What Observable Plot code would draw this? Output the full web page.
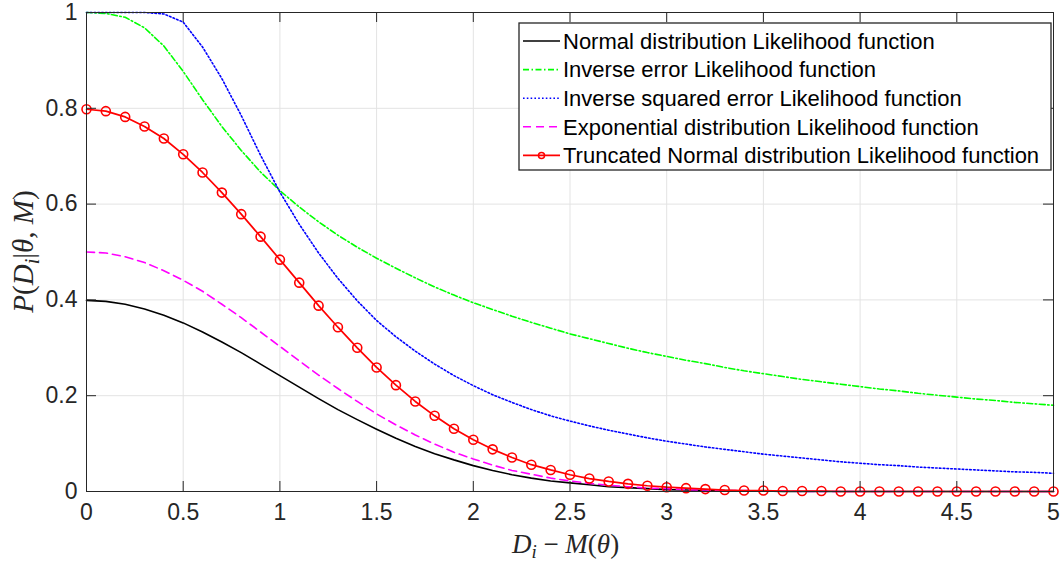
<!DOCTYPE html>
<html><head><meta charset="utf-8">
<script src="https://cdn.jsdelivr.net/npm/d3@7"></script>
<script src="https://cdn.jsdelivr.net/npm/@observablehq/plot@0.6"></script>
<style>
body{margin:0;background:#fff}
#chart{position:relative;width:1060px;height:563px}
</style>
</head><body><div id="chart"></div>
<script>
// ---- data ----
const xs = [0,0.1,0.2,0.3,0.4,0.5,0.6,0.7,0.8,0.9,1.0,1.1,1.2,1.3,1.4,1.5,1.6,1.7,1.8,1.9,2.0,2.1,2.2,2.3,2.4,2.5,2.6,2.7,2.8,2.9,3.0,3.1,3.2,3.3,3.4,3.5,3.6,3.7,3.8,3.9,4.0,4.1,4.2,4.3,4.4,4.5,4.6,4.7,4.8,4.9,5.0];
const normalLik = [0.399,0.397,0.391,0.381,0.368,0.352,0.333,0.312,0.290,0.266,0.242,0.218,0.194,0.171,0.150,0.130,0.111,0.094,0.079,0.066,0.054,0.044,0.035,0.028,0.022,0.018,0.014,0.010,0.008,0.006,0.004,0.003,0.002,0.002,0.001,0.001,0,0,0,0,0,0,0,0,0,0,0,0,0,0,0];
const inverseErr = [1.000,0.998,0.990,0.968,0.930,0.877,0.818,0.762,0.712,0.667,0.628,0.594,0.563,0.535,0.510,0.487,0.466,0.446,0.427,0.410,0.394,0.380,0.366,0.353,0.341,0.329,0.319,0.309,0.299,0.290,0.282,0.274,0.267,0.259,0.252,0.246,0.240,0.234,0.229,0.224,0.219,0.214,0.210,0.205,0.201,0.197,0.193,0.190,0.186,0.183,0.180];
const inverseSqErr = [1.000,1.000,1.000,1.000,0.997,0.980,0.928,0.862,0.785,0.702,0.625,0.558,0.498,0.445,0.398,0.357,0.323,0.293,0.266,0.242,0.221,0.202,0.186,0.171,0.158,0.147,0.137,0.128,0.120,0.112,0.105,0.099,0.093,0.088,0.083,0.078,0.074,0.070,0.066,0.062,0.059,0.056,0.054,0.051,0.049,0.047,0.045,0.043,0.041,0.040,0.038];
const exponentialLik = [0.500,0.498,0.490,0.478,0.461,0.441,0.418,0.391,0.363,0.333,0.303,0.273,0.243,0.215,0.188,0.162,0.139,0.118,0.099,0.082,0.068,0.055,0.044,0.036,0.028,0.022,0.017,0.013,0.010,0.007,0.006,0.004,0.003,0.002,0.002,0.001,0.001,0,0,0,0,0,0,0,0,0,0,0,0,0,0];
const truncNormalLik = [0.798,0.794,0.782,0.762,0.737,0.704,0.666,0.624,0.579,0.532,0.484,0.436,0.388,0.343,0.300,0.259,0.222,0.188,0.158,0.131,0.108,0.088,0.071,0.056,0.045,0.035,0.027,0.021,0.016,0.012,0.009,0.007,0.005,0.003,0.002,0.002,0.001,0.001,0.001,0,0,0,0,0,0,0,0,0,0,0,0];
const seriesNames = ["Normal distribution Likelihood function","Inverse error Likelihood function","Inverse squared error Likelihood function","Exponential distribution Likelihood function","Truncated Normal distribution Likelihood function"];
const xTicks = [0,0.5,1,1.5,2,2.5,3,3.5,4,4.5,5];
const yTicks = [0,0.2,0.4,0.6,0.8,1];

// ---- styles ----
const styles = [
  {values: normalLik,      stroke:"#000000", dash:null,            width:1.6, marker:false},
  {values: inverseErr,     stroke:"#00ff00", dash:"6,2.5,1.5,2.5", width:1.6, marker:false},
  {values: inverseSqErr,   stroke:"#0000ff", dash:"1.6,2.2",       width:1.6, marker:false},
  {values: exponentialLik, stroke:"#ff00ff", dash:"8,5",           width:1.6, marker:false},
  {values: truncNormalLik, stroke:"#ff0000", dash:null,            width:1.7, marker:true}
];
const W=1060, H=563, mL=86, mR=7, mT=12, mB=72;
const pW=W-mL-mR, pH=H-mT-mB;
const axisColor="#262626", gridColor="#e3e3e3";
const sans = "'Liberation Sans', Arial, sans-serif";

const rowsFor = vals => xs.map((x,i)=>({x, y: vals[i]}));

const marks = [
  Plot.gridX(xTicks, {stroke: gridColor, strokeOpacity: 1, strokeWidth: 1}),
  Plot.gridY(yTicks, {stroke: gridColor, strokeOpacity: 1, strokeWidth: 1}),
];
styles.forEach(s => {
  marks.push(Plot.line(rowsFor(s.values), {x:"x", y:"y", stroke:s.stroke, strokeWidth:s.width, strokeDasharray:s.dash, strokeLinejoin:"round"}));
  if (s.marker) marks.push(Plot.dot(rowsFor(s.values), {x:"x", y:"y", r:4.5, stroke:s.stroke, strokeWidth:1.6, fill:"none"}));
});
marks.push(
  // inward ticks on all four sides
  Plot.ruleX(xTicks, {x: d=>d, insetTop: pH-10, stroke: axisColor}),
  Plot.ruleX(xTicks, {x: d=>d, insetBottom: pH-10, stroke: axisColor}),
  Plot.ruleY(yTicks, {y: d=>d, insetRight: pW-10, stroke: axisColor}),
  Plot.ruleY(yTicks, {y: d=>d, insetLeft: pW-10, stroke: axisColor}),
  Plot.frame({stroke: axisColor, strokeWidth: 1}),
  Plot.axisX(xTicks, {tickSize:0, tickPadding:12, tickFormat: d=>String(d), label:null, fill: axisColor, fontSize: 23}),
  Plot.axisY(yTicks, {tickSize:0, tickPadding:9, tickFormat: d=>String(d), label:null, fill: axisColor, fontSize: 23})
);

const chart = Plot.plot({
  width: W, height: H,
  marginLeft: mL, marginRight: mR, marginTop: mT, marginBottom: mB,
  x: {domain:[0,5]}, y: {domain:[0,1]},
  style: {fontFamily: sans, fontSize: "23px", color: axisColor, background: "#fff"},
  marks
});
document.getElementById("chart").appendChild(chart);

// ---- axis labels (LaTeX-like) ----
const svg = d3.select(chart);
const serif = "'Liberation Serif', 'DejaVu Serif', serif";
function mathText(g, parts){
  const t = g.append("text").attr("font-family", serif).attr("fill", axisColor);
  parts.forEach(p=>{
    const ts = t.append("tspan").text(p.t);
    if (p.i) ts.attr("font-style","italic");
    if (p.sub){ ts.attr("font-size","70%").attr("dy","0.28em"); }
    if (p.back){ ts.attr("dy","-0.2em"); }
  });
  return t;
}
mathText(svg.append("g"), [
  {t:"D", i:true},{t:"i", i:true, sub:true},{t:" − ", back:true},{t:"M", i:true},{t:"("},{t:"θ", i:true},{t:")"}
]).attr("x", mL + pW/2 - 4).attr("y", 553).attr("text-anchor","middle").attr("font-size", 27);

mathText(svg.append("g"), [
  {t:"P", i:true},{t:"("},{t:"D", i:true},{t:"i", i:true, sub:true},{t:"|", back:true},{t:"θ", i:true},{t:", "},{t:"M", i:true},{t:")"}
]).attr("text-anchor","middle").attr("font-size", 29)
  .attr("transform", `translate(33,${mT + pH/2}) rotate(-90)`);

// ---- legend (inside the axes, top-right) ----
const lg = svg.append("g").attr("transform","translate(519,23)");
lg.append("rect").attr("width", 532).attr("height", 147).attr("fill","#fff").attr("stroke", axisColor).attr("stroke-width",1.3);
styles.forEach((s,i)=>{
  const cy = 18 + i*28.6;
  lg.append("line").attr("x1",4).attr("x2",41).attr("y1",cy).attr("y2",cy)
    .attr("stroke", s.stroke).attr("stroke-width", s.width).attr("stroke-dasharray", s.dash);
  if (s.marker) lg.append("circle").attr("cx",22.5).attr("cy",cy).attr("r",3).attr("fill","none").attr("stroke",s.stroke).attr("stroke-width",1.5);
  lg.append("text").attr("x",44).attr("y",cy).attr("dy","0.35em").attr("text-anchor","start")
    .attr("font-family", sans).attr("font-size",22).attr("fill","#000")
    .text(seriesNames[i]);
});
</script>
</body></html>
